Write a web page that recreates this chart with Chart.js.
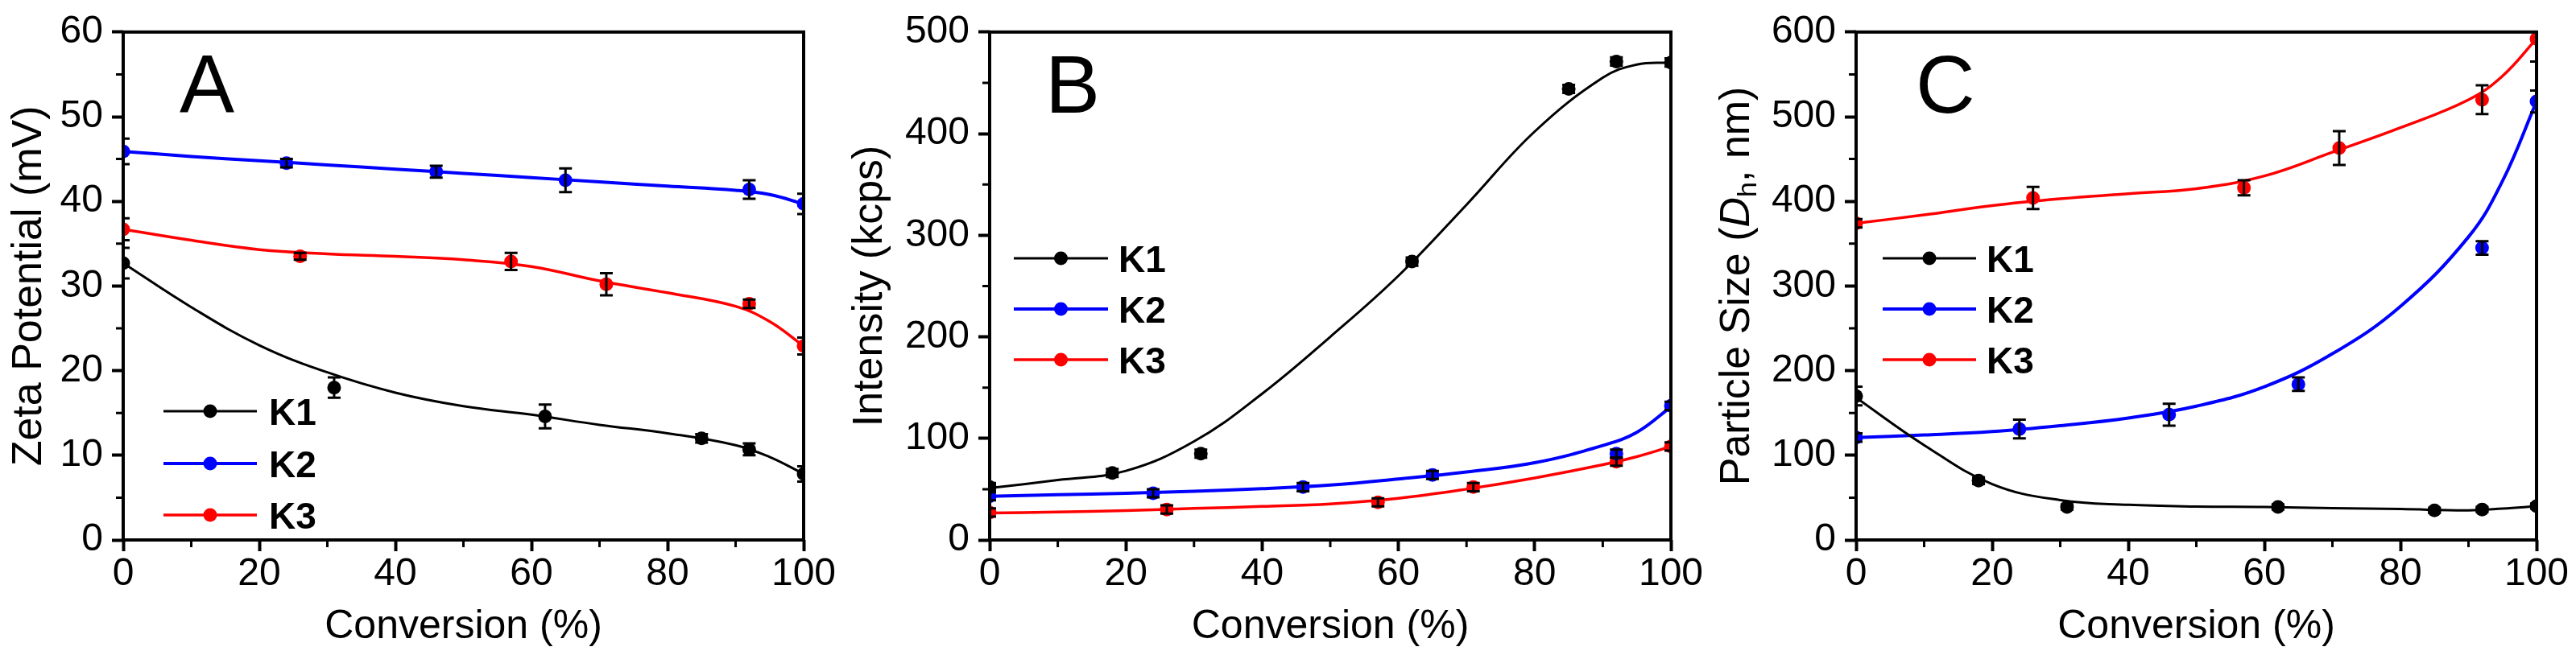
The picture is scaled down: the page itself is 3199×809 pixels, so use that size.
<!DOCTYPE html>
<html>
<head>
<meta charset="utf-8">
<script src="https://cdn.jsdelivr.net/npm/chart.js@4.4.1/dist/chart.umd.min.js"></script>
<style>
  html, body { margin: 0; padding: 0; background: #fff; }
  #wrap { position: relative; width: 3199px; height: 809px; background: #fff; }
  #wrap canvas { position: absolute; left: 0; top: 0; }
</style>
</head>
<body>
<div id="wrap">
  <canvas id="chartA" width="3199" height="809"></canvas>
  <canvas id="chartB" width="3199" height="809"></canvas>
  <canvas id="chartC" width="3199" height="809"></canvas>
</div>
<script>
// conversion (%) of each sample
const convK1 = [0, 18, 31, 62, 85, 92, 100];
const convK1Zeta = [0, 31, 62, 85, 92, 100];
const convK2 = [0, 24, 46, 65, 92, 100];
const convK3 = [0, 26, 57, 71, 92, 100];
const fitConv = [0, 10, 20, 30, 40, 50, 60, 70, 80, 90, 95, 100];

// A: zeta potential (mV)
const zetaK1 = [32.7, 18.0, 14.6, 12.0, 10.7, 7.8];
const zetaK1Err = [1.8, 1.2, 1.4, 0.5, 0.7, 0.9];
const zetaK2 = [45.9, 44.5, 43.5, 42.5, 41.4, 39.7];
const zetaK2Err = [1.5, 0.5, 0.7, 1.4, 1.1, 1.2];
const zetaK3 = [36.7, 33.5, 32.9, 30.2, 27.9, 22.9];
const zetaK3Err = [1.3, 0.4, 1.0, 1.3, 0.5, 1.0];
const zetaFitK1 = [32.7, 27.5, 23.0, 19.8, 17.4, 15.8, 14.8, 13.6, 12.6, 11.2, 9.8, 7.8];
const zetaFitK2 = [45.9, 45.3, 44.8, 44.3, 43.8, 43.3, 42.8, 42.3, 41.8, 41.3, 40.8, 39.7];
const zetaFitK3 = [36.7, 35.4, 34.3, 33.8, 33.5, 33.1, 32.3, 30.6, 29.2, 27.6, 25.8, 22.9];

// B: scattered intensity (kcps)
const intK1 = [52, 66, 85, 274, 444, 471, 470];
const intK1Err = [4, 4, 4, 4, 4, 4, 4];
const intK2 = [43, 46, 52, 64, 85, 132];
const intK2Err = [4, 4, 4, 4, 4, 4];
const intK3 = [27, 30, 37, 52, 77, 92];
const intK3Err = [4, 4, 4, 4, 4, 4];
const intFitK1 = [51, 59, 68, 97, 144, 200, 260, 330, 402, 455, 468, 470];
const intFitK2 = [43, 44.5, 46, 48, 50.5, 54, 60, 67, 76, 93, 106, 131];
const intFitK3 = [26.5, 27.5, 29, 31, 33, 35.5, 41, 50, 61, 74, 82, 92];

// C: particle size Dh (nm)
const sizeK1 = [170, 70, 39, 39, 35, 36, 40];
const sizeK1Err = [11, 4, 3, 3, 3, 3, 3];
const sizeK2 = [121, 131, 148, 184, 345, 518];
const sizeK2Err = [5, 11, 13, 8, 8, 13];
const sizeK3 = [374, 404, 416, 463, 520, 592];
const sizeK3Err = [5, 13, 9, 20, 17, 27];
const sizeFitK1 = [168, 112, 66, 47, 41.5, 39.5, 39, 37.5, 36.5, 35, 37, 40];
const sizeFitK2 = [121, 124, 128, 135, 144, 158, 181, 220, 276, 358, 424, 518];
const sizeFitK3 = [374, 384, 395, 403, 409, 415, 430, 458, 487, 520, 548, 592];

// minor tick values
const xMinor = [10, 30, 50, 70, 90];
const zetaMinor = [5, 15, 25, 35, 45, 55];
const intMinor = [50, 150, 250, 350, 450];
const sizeMinor = [50, 150, 250, 350, 450, 550];

const seriesNames = ['K1', 'K2', 'K3'];
const FONT = '"Liberation Sans", Arial, Helvetica, sans-serif';

const pts = (xs, ys) => xs.map((x, i) => ({ x: x, y: ys[i] }));

function markerSet(label, xs, ys, errs, color) {
    return {
        label: label,
        data: pts(xs, ys),
        errors: errs,
        showLine: false,
        pointRadius: 8.5,
        pointHoverRadius: 8.5,
        pointBorderWidth: 0,
        pointBackgroundColor: color,
        borderColor: color,
        backgroundColor: color
    };
}

function curveSet(label, ys, color, width) {
    return {
        label: label,
        data: pts(fitConv, ys),
        pointRadius: 0,
        borderColor: color,
        borderWidth: width,
        tension: 0.4,
        fill: false
    };
}

// error bars on top of the markers
const errorBars = {
    id: 'errorBars',
    afterDatasetsDraw(chart) {
        const ctx = chart.ctx;
        const xs = chart.scales.x, ys = chart.scales.y, a = chart.chartArea;
        ctx.save();
        ctx.beginPath();
        ctx.rect(a.left, a.top, a.right - a.left, a.bottom - a.top);
        ctx.clip();
        ctx.strokeStyle = '#000';
        ctx.lineWidth = 3;
        chart.data.datasets.forEach(ds => {
            if (!ds.errors) return;
            ds.data.forEach((p, i) => {
                const e = ds.errors[i];
                const px = xs.getPixelForValue(p.x);
                const top = ys.getPixelForValue(p.y + e);
                const bot = ys.getPixelForValue(p.y - e);
                ctx.beginPath();
                ctx.moveTo(px, top); ctx.lineTo(px, bot);
                ctx.moveTo(px - 8, top); ctx.lineTo(px + 8, top);
                ctx.moveTo(px - 8, bot); ctx.lineTo(px + 8, bot);
                ctx.stroke();
            });
        });
        ctx.restore();
    }
};

// frame, minor ticks, legend and panel letter
const panelDecor = {
    id: 'panelDecor',
    afterDraw(chart, args, o) {
        const ctx = chart.ctx, a = chart.chartArea;
        const xs = chart.scales.x, ys = chart.scales.y;
        ctx.save();
        ctx.strokeStyle = '#000';
        ctx.lineWidth = 4;
        ctx.strokeRect(a.left, a.top, a.right - a.left, a.bottom - a.top);

        ctx.lineWidth = 3;
        ctx.beginPath();
        o.xMinor.forEach(v => {
            const p = xs.getPixelForValue(v);
            ctx.moveTo(p, a.bottom); ctx.lineTo(p, a.bottom + 9);
        });
        o.yMinor.forEach(v => {
            const p = ys.getPixelForValue(v);
            ctx.moveTo(a.left, p); ctx.lineTo(a.left - 9, p);
        });
        ctx.stroke();

        // legend
        o.legendRows.forEach((y, i) => {
            const color = chart.data.datasets[i].borderColor;
            ctx.strokeStyle = color;
            ctx.lineWidth = chart.data.datasets[i + 3].borderWidth;
            ctx.beginPath();
            ctx.moveTo(o.legendX0, y); ctx.lineTo(o.legendX1, y);
            ctx.stroke();
            ctx.fillStyle = color;
            ctx.beginPath();
            ctx.arc((o.legendX0 + o.legendX1) / 2, y, 8.5, 0, Math.PI * 2);
            ctx.fill();
            ctx.fillStyle = '#000';
            ctx.font = 'bold 46px ' + FONT;
            ctx.textAlign = 'left';
            ctx.textBaseline = 'alphabetic';
            ctx.fillText(seriesNames[i], o.legendText, y + 17);
        });

        // panel letter
        ctx.fillStyle = '#000';
        ctx.font = '102px ' + FONT;
        ctx.textAlign = 'left';
        ctx.textBaseline = 'alphabetic';
        ctx.fillText(o.letter, o.letterX, 140);

        // y title with italic D and subscript h
        if (o.richTitle) {
            const parts = [
                { t: 'Particle Size (', f: '52px ' + FONT, dy: 0 },
                { t: 'D', f: 'italic 52px ' + FONT, dy: 0 },
                { t: 'h', f: '34px ' + FONT, dy: 14 },
                { t: ', nm)', f: '52px ' + FONT, dy: 0 }
            ];
            let total = 0;
            parts.forEach(p => { ctx.font = p.f; p.w = ctx.measureText(p.t).width; total += p.w; });
            ctx.translate(o.richTitle.x, (a.top + a.bottom) / 2);
            ctx.rotate(-Math.PI / 2);
            ctx.textBaseline = 'middle';
            let x = -total / 2;
            parts.forEach(p => {
                ctx.font = p.f;
                ctx.fillText(p.t, x, p.dy);
                x += p.w;
            });
        }
        ctx.restore();
    }
};

function makePanel(id, p) {
    const yTitle = p.yTitle
        ? { display: true, text: p.yTitle, color: '#000', font: { family: FONT, size: 52 }, padding: 0 }
        : { display: false };
    return new Chart(document.getElementById(id), {
        type: 'line',
        data: {
            datasets: [
                markerSet('K1', p.xK1, p.k1, p.k1Err, '#000000'),
                markerSet('K2', convK2, p.k2, p.k2Err, '#0000ff'),
                markerSet('K3', convK3, p.k3, p.k3Err, '#ff0000'),
                curveSet('K1 fit', p.fit1, '#000000', 3),
                curveSet('K2 fit', p.fit2, '#0000ff', 4),
                curveSet('K3 fit', p.fit3, '#ff0000', 3.5)
            ]
        },
        options: {
            responsive: false,
            animation: false,
            events: [],
            layout: { padding: { left: p.left - p.yWidth, right: 3199 - p.right, top: 35, bottom: 0 } },
            scales: {
                x: {
                    type: 'linear', min: 0, max: 100,
                    ticks: { stepSize: 20, autoSkip: false, maxRotation: 0, padding: 0, color: '#000', font: { family: FONT, size: 48 } },
                    grid: { drawOnChartArea: false, drawTicks: true, tickLength: 14, tickWidth: 4, color: '#000' },
                    border: { display: false },
                    title: { display: true, text: 'Conversion (%)', color: '#000', font: { family: FONT, size: 50 }, padding: 0 },
                    afterFit(s) { s.height = 138; }
                },
                y: {
                    type: 'linear', min: p.yMin, max: p.yMax,
                    ticks: { stepSize: p.yStep, autoSkip: false, padding: 11, color: '#000', font: { family: FONT, size: 48 } },
                    grid: { drawOnChartArea: false, drawTicks: true, tickLength: 14, tickWidth: 4, color: '#000' },
                    border: { display: false },
                    title: yTitle,
                    afterFit(s) { s.width = p.yWidth; }
                }
            },
            plugins: {
                legend: { display: false },
                tooltip: { enabled: false },
                panelDecor: {
                    xMinor: xMinor, yMinor: p.yMinor,
                    legendX0: p.legendX0, legendX1: p.legendX1, legendText: p.legendText, legendRows: p.legendRows,
                    letter: p.letter, letterX: p.letterX,
                    richTitle: p.richTitle
                }
            }
        },
        plugins: [errorBars, panelDecor]
    });
}

makePanel('chartA', {
    left: 153, right: 998, yWidth: 148,
    yMin: 0, yMax: 60, yStep: 10, yMinor: zetaMinor, yTitle: 'Zeta Potential (mV)',
    xK1: convK1Zeta, k1: zetaK1, k1Err: zetaK1Err, k2: zetaK2, k2Err: zetaK2Err, k3: zetaK3, k3Err: zetaK3Err,
    fit1: zetaFitK1, fit2: zetaFitK2, fit3: zetaFitK3,
    legendX0: 203, legendX1: 319, legendText: 334, legendRows: [511, 576, 640],
    letter: 'A', letterX: 223
});

makePanel('chartB', {
    left: 1229, right: 2075, yWidth: 180,
    yMin: 0, yMax: 500, yStep: 100, yMinor: intMinor, yTitle: 'Intensity (kcps)',
    xK1: convK1, k1: intK1, k1Err: intK1Err, k2: intK2, k2Err: intK2Err, k3: intK3, k3Err: intK3Err,
    fit1: intFitK1, fit2: intFitK2, fit3: intFitK3,
    legendX0: 1259, legendX1: 1376, legendText: 1389, legendRows: [321, 384, 447],
    letter: 'B', letterX: 1298
});

makePanel('chartC', {
    left: 2305, right: 3150, yWidth: 180,
    yMin: 0, yMax: 600, yStep: 100, yMinor: sizeMinor, yTitle: null,
    xK1: convK1, k1: sizeK1, k1Err: sizeK1Err, k2: sizeK2, k2Err: sizeK2Err, k3: sizeK3, k3Err: sizeK3Err,
    fit1: sizeFitK1, fit2: sizeFitK2, fit3: sizeFitK3,
    legendX0: 2338, legendX1: 2454, legendText: 2467, legendRows: [321, 384, 447],
    letter: 'C', letterX: 2379,
    richTitle: { x: 2158 }
});
</script>
</body>
</html>
